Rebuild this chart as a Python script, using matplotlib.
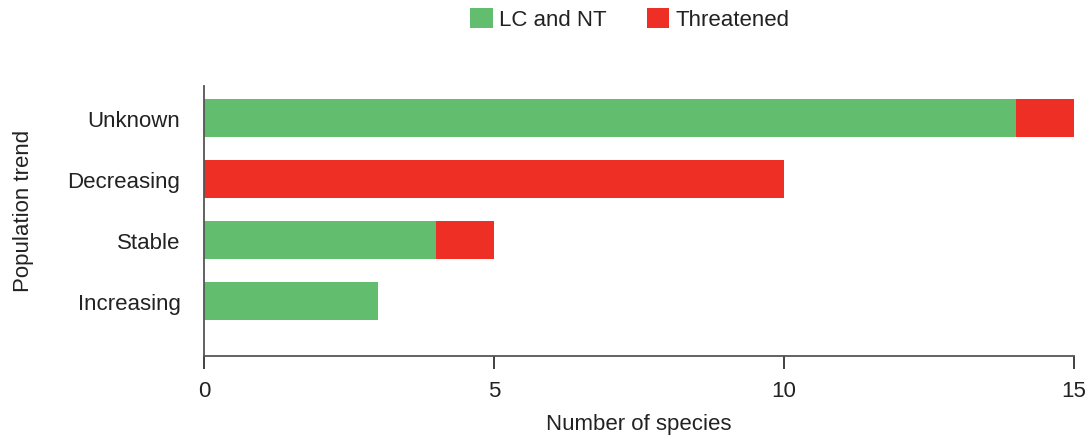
import matplotlib

matplotlib.use("Agg")
import matplotlib.pyplot as plt
import numpy as np

plt.rcParams["font.family"] = ["Liberation Sans", "DejaVu Sans"]

trends = ["Increasing", "Stable", "Decreasing", "Unknown"]
lc_nt = [3, 4, 0, 14]
threatened = [0, 1, 10, 1]

GREEN = "#62bd6e"
RED = "#ee2f25"
FS = 16

fig = plt.figure(figsize=(10.89, 4.39), dpi=100)
ax = fig.add_axes([204 / 1089, 1 - 357 / 439, 870 / 1089, 270 / 439])

y = np.arange(len(trends))
ax.barh(y, lc_nt, height=0.62, color=GREEN, label="LC and NT")
ax.barh(y, threatened, left=lc_nt, height=0.62, color=RED, label="Threatened")

ax.set_xlim(0, 15)
ax.set_ylim(-0.9, 3.52)
ax.set_xticks([0, 5, 10, 15])
ax.set_yticks(y)
ax.set_yticklabels(trends)

for side in ["top", "right"]:
    ax.spines[side].set_visible(False)
for side in ["left", "bottom"]:
    ax.spines[side].set_color("#555555")
    ax.spines[side].set_linewidth(1.3)

ax.tick_params(axis="x", length=9.4, width=1.3, color="#333333", pad=8,
               labelsize=FS, labelcolor="#222222")
ax.tick_params(axis="y", length=0, pad=17, labelsize=FS, labelcolor="#222222")
for lbl in ax.get_yticklabels():
    lbl.set_va("center_baseline")

ax.set_xlabel("Number of species", fontsize=FS, color="#222222")
ax.set_ylabel("Population trend", fontsize=FS, color="#222222")
ax.xaxis.set_label_coords(0.5, -0.212)
ax.yaxis.set_label_coords(-0.208, 0.54)
ax.yaxis.label.set_va("center")

fig.legend(loc="center", bbox_to_anchor=(630 / 1089, 1 - 20 / 439), ncol=2,
           frameon=False, fontsize=FS, handlelength=1.0, handleheight=1.0,
           handletextpad=0.3, columnspacing=1.8, labelcolor="#222222")

fig.savefig("out.png", dpi=100)
plt.close(fig)
